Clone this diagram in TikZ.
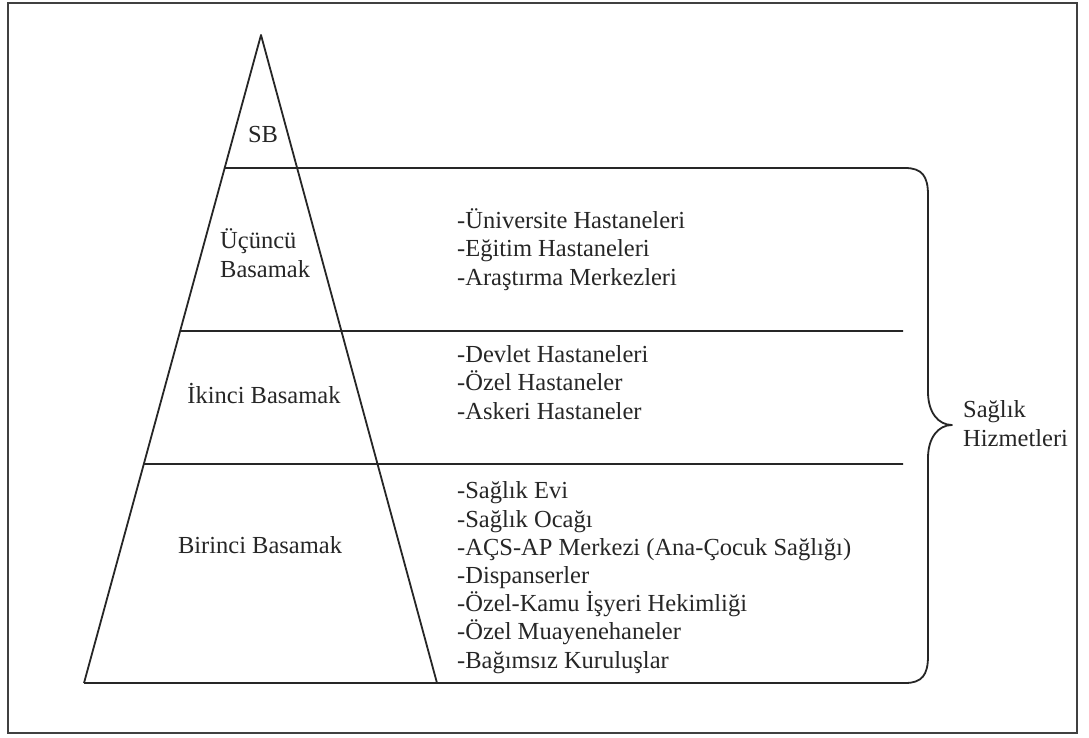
\documentclass[tikz,border=0pt]{standalone}
\usepackage{fontspec}
\setmainfont{Liberation Serif}
\usetikzlibrary{calc}
\begin{document}
\begin{tikzpicture}[x=1pt,y=-1pt,
  frame/.style={draw=black!75,line width=2pt},
  edge/.style={draw=black!85,line width=1.8pt,line join=round},
  lbl/.style={inner sep=0pt,font=\fontsize{24.5}{28.2}\selectfont,text=black!85},
  list/.style={lbl,anchor=base west,align=left}]
\useasboundingbox (0,0) rectangle (1089,737);
\fill[white] (0,0) rectangle (1089,737);
\draw[frame] (8,3) rectangle (1077,733);

% pyramid corners
\coordinate (apex) at (261,35);
\coordinate (bl) at (84,683);
\coordinate (br) at (437,683);
\draw[edge] (bl) -- (apex) -- (br);

% level separators (left ends sit on the left side of the pyramid)
\coordinate (l1) at ($(apex)!0.2052!(bl)$);
\coordinate (l2) at ($(apex)!0.4568!(bl)$);
\coordinate (l3) at ($(apex)!0.6620!(bl)$);
\coordinate (r1) at (905,168);
\coordinate (r2) at (903,331);
\coordinate (r3) at (903,464);
\coordinate (rb) at (905,683);
\coordinate (tip) at (952,425);
\draw[edge] (l1) -- (r1);
\draw[edge] (l2) -- (r2);
\draw[edge] (l3) -- (r3);
\draw[edge] (bl) -- (rb);

% curly brace joining the top and bottom lines
\draw[edge] (r1) .. controls (922,168) and (928,176) .. (928,195)
  -- (928,392) .. controls (928,412) and (938,425) .. (tip)
  .. controls (938,425) and (928,438) .. (928,458)
  -- (928,656) .. controls (928,675) and (922,683) .. (rb);

% pyramid labels (multi-line nodes are placed by their last baseline)
\node[lbl,anchor=base] (sb) at (263,142) {SB};
\node[list] (t3) at (220,277) {Üçüncü\\Basamak};
\node[lbl,anchor=base] (t2) at (264,403) {İkinci Basamak};
\node[lbl,anchor=base] (t1) at (260,553) {Birinci Basamak};

% institutions of each level
\node[list] (i3) at (457,285) {-Üniversite Hastaneleri\\-Eğitim Hastaneleri\\-Araştırma Merkezleri};
\node[list] (i2) at (457,419) {-Devlet Hastaneleri\\-Özel Hastaneler\\-Askeri Hastaneler};
\node[list] (i1) at (457,668) {-Sağlık Evi\\-Sağlık Ocağı\\-AÇS-AP Merkezi (Ana-Çocuk Sağlığı)\\-Dispanserler\\-Özel-Kamu İşyeri Hekimliği\\-Özel Muayenehaneler\\-Bağımsız Kuruluşlar};

\node[list] (sh) at (963,446) {Sağlık\\Hizmetleri};
\end{tikzpicture}
\end{document}
